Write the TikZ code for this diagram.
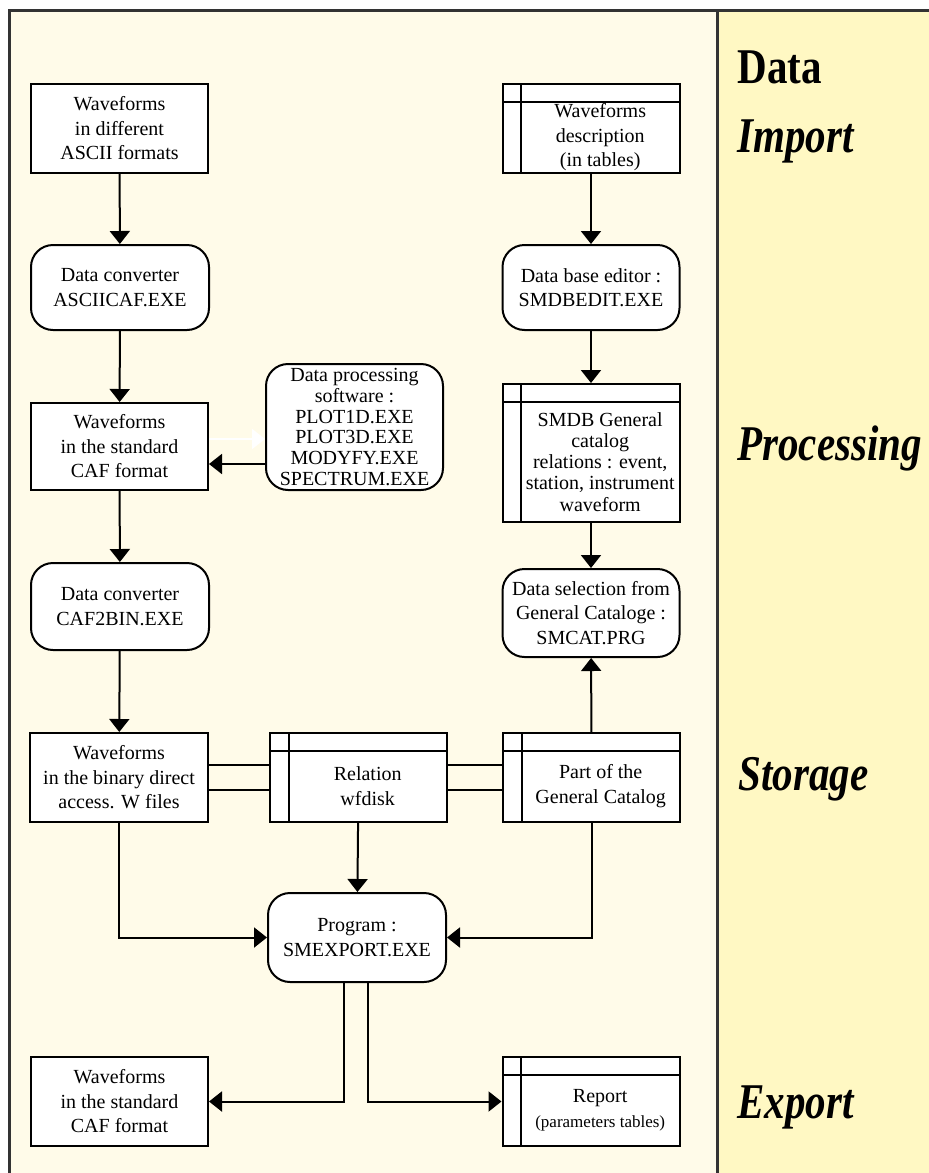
\documentclass[tikz,border=0pt]{standalone}
\usepackage{fontspec}
\setmainfont{Liberation Serif}
\newfontfamily\headfont[FakeStretch=0.82]{Liberation Serif}
\usetikzlibrary{arrows.meta}
\definecolor{leftbg}{HTML}{FFFBE9}
\definecolor{rightbg}{HTML}{FFF8C3}
\definecolor{framecol}{HTML}{333333}
\tikzset{
  box/.style={draw,line width=1pt,fill=white,minimum width=88.5pt,minimum height=44.5pt,inner sep=1pt,align=center,font=\fontsize{10}{12.25}\selectfont},
  prog/.style={box,rounded corners=11pt},
  tbl/.style={box,path picture={
    \draw[line width=1pt] ([xshift=9.25pt]path picture bounding box.north west) -- ([xshift=9.25pt]path picture bounding box.south west);
    \draw[line width=1pt] ([yshift=-8.75pt]path picture bounding box.north west) -- ([yshift=-8.75pt]path picture bounding box.north east);}},
  tbltext/.style={align=center,inner sep=0pt,font=\fontsize{10}{12.25}\selectfont},
  arr/.style={line width=1pt,-{Triangle[width=10pt,length=6.5pt]}},
  link/.style={line width=1pt},
  head/.style={anchor=base west,inner sep=0pt,font=\headfont\fontsize{25}{30}\selectfont\bfseries\itshape}
}
\begin{document}
\begin{tikzpicture}[x=0.5pt,y=-0.5pt]
\useasboundingbox (0,0) rectangle (929,1173);
\fill[leftbg] (9,10) rectangle (717,1173);
\fill[rightbg] (717,10) rectangle (929,1173);
\draw[framecol,line width=1.5pt] (9,1173) -- (9,10) -- (929,10);
\draw[framecol,line width=1.5pt] (717,10) -- (717,1173);

\node[head,font=\headfont\fontsize{25}{30}\selectfont\bfseries] (h-data) at (737,83) {Data};
\node[head] (h-import) at (737,152) {Import};
\node[head] (h-proc) at (737,460) {Processing};
\node[head] (h-store) at (738,790) {Storage};
\node[head] (h-export) at (737,1118) {Export};

\node[box] (imp) at (119.5,128.5) {Waveforms\\in different\\ASCII formats};
\node[prog,minimum width=89pt,minimum height=42.5pt] (conv1) at (120,287.5) {Data converter\\ASCIICAF.EXE};
\node[box,minimum height=43.5pt] (caf) at (119.5,446.5) {Waveforms\\in the standard\\CAF format};
\node[prog,minimum width=89pt,minimum height=43.5pt] (conv2) at (120,606.5) {Data converter\\CAF2BIN.EXE};
\node[box,minimum width=89pt] (bin) at (119,777.5) {Waveforms\\in the binary direct\\access. W files};
\node[prog,minimum height=63pt,font=\fontsize{10}{10.4}\selectfont] (soft) at (354.5,427) {Data processing\\software :\\PLOT1D.EXE\\PLOT3D.EXE\\MODYFY.EXE\\SPECTRUM.EXE};

\node[tbl] (desc) at (591,128.5) {};
\node[tbltext] (desc-t) at ([xshift=4.6pt,yshift=-4.4pt]desc.center) {Waveforms\\description\\(in tables)};
\node[prog,minimum height=42.5pt] (edit) at (591,287.5) {Data base editor :\\SMDBEDIT.EXE};
\node[tbl,minimum height=69pt] (smdb) at (591,453) {};
\node[tbltext,font=\fontsize{10}{10.6}\selectfont] (smdb-t) at ([xshift=4.6pt,yshift=-4.4pt]smdb.center) {SMDB General\\catalog\\relations : event,\\station, instrument\\waveform};
\node[prog,minimum height=44pt] (sel) at (591,613) {Data selection from\\General Cataloge :\\SMCAT.PRG};

\node[tbl] (wfd) at (358.5,777.5) {};
\node[tbltext] (wfd-t) at ([xshift=4.6pt,yshift=-4.4pt]wfd.center) {Relation\\wfdisk};
\node[tbl] (part) at (591.5,777.5) {};
\node[tbltext] (part-t) at ([xshift=4.6pt,yshift=-4.4pt]part.center) {Part of the\\General Catalog};
\node[prog,minimum width=89pt] (exp) at (357,937.5) {Program :\\SMEXPORT.EXE};

\node[box] (out) at (119.5,1101.5) {Waveforms\\in the standard\\CAF format};
\node[tbl] (rep) at (591,1101.5) {};
\node[tbltext] (rep-t) at ([xshift=4.6pt,yshift=-4.4pt]rep.center) {Report\\{\fontsize{8.5}{10}\selectfont (parameters tables)}};

\draw[arr] (imp) -- (conv1);
\draw[arr] (conv1) -- (caf);
\draw[arr] (caf) -- (conv2);
\draw[arr] (conv2) -- (bin);
\draw[arr] (desc) -- (edit);
\draw[arr] (edit) -- (smdb);
\draw[arr] (smdb) -- (sel);
\draw[arr] (part) -- (sel);
\coordinate (soft-in) at ([yshift=-18.5pt]soft.west);
\coordinate (soft-out) at ([yshift=-6pt]soft.west);
\draw[arr] (soft-in) -- (soft-in -| caf.east);
\draw[arr,white] (soft-out -| caf.east) -- (soft-out);
\draw[link] ([yshift=6.25pt]bin.east) -- ([yshift=6.25pt]wfd.west);
\draw[link] ([yshift=-6.25pt]bin.east) -- ([yshift=-6.25pt]wfd.west);
\draw[link] ([yshift=6.25pt]wfd.east) -- ([yshift=6.25pt]part.west);
\draw[link] ([yshift=-6.25pt]wfd.east) -- ([yshift=-6.25pt]part.west);
\draw[arr] (wfd) -- (exp);
\draw[arr] (bin.south) |- (exp.west);
\draw[arr] (part.south) |- (exp.east);
\coordinate (exp-l) at ([xshift=-6.5pt]exp.south);
\coordinate (exp-r) at ([xshift=5.5pt]exp.south);
\draw[arr] (exp-l) |- (out.east);
\draw[arr] (exp-r) |- (rep.west);
\end{tikzpicture}
\end{document}
